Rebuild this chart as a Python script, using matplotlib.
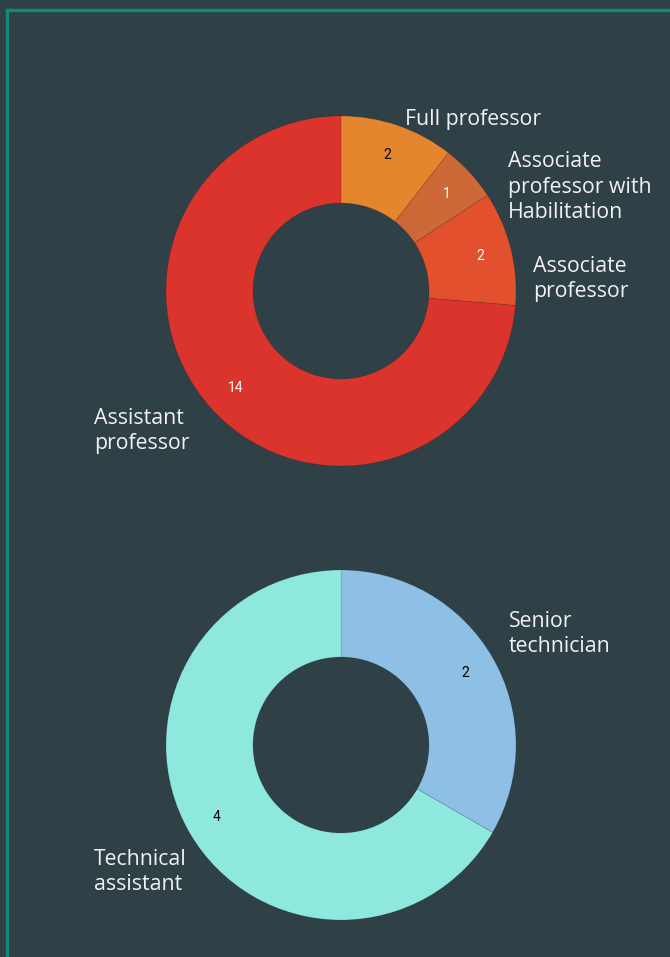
import matplotlib.pyplot as plt
from matplotlib.patches import Rectangle

# data
staff_labels = ['Full professor', 'Associate\nprofessor with\nHabilitation',
                'Associate\nprofessor', 'Assistant\nprofessor']
staff_counts = [2, 1, 2, 14]
staff_colors = ['#e5862e', '#cd6837', '#e2502d', '#da342c']
staff_numcol = ['black', 'white', 'white', 'white']

tech_labels = ['Senior\ntechnician', 'Technical\nassistant']
tech_counts = [2, 4]
tech_colors = ['#8ec0e6', '#8ee8de']
tech_numcol = ['black', 'black']

W, H = 670, 957
bg = '#2f4147'

fig = plt.figure(figsize=(W / 100, H / 100), dpi=100, facecolor=bg)
ax = fig.add_axes([0, 0, 1, 1])
ax.set_facecolor(bg)

R = 175
hole = 88


def donut(center, counts, colors, numcol, labels, label_pos):
    wedges, texts, autos = ax.pie(
        counts, colors=colors, center=center, radius=R,
        startangle=90, counterclock=False, frame=True,
        autopct=lambda p: '%d' % round(p * sum(counts) / 100),
        pctdistance=0.82,
        wedgeprops=dict(width=R - hole, edgecolor=(0, 0, 0, 0.12), linewidth=0.6),
        textprops=dict(fontsize=10, family=['Roboto', 'DejaVu Sans']))
    for t, c in zip(autos, numcol):
        t.set_color(c)
    for lab, (x, y) in zip(labels, label_pos):
        ax.text(x, H - y, lab, ha='left', va='center', color='#f2f2f2',
                fontsize=15.3, family=['Open Sans', 'DejaVu Sans'], linespacing=1.26)


donut((341, H - 291), staff_counts, staff_colors, staff_numcol, staff_labels,
      [(405, 119), (508, 187), (533, 279), (94, 431)])
donut((341, H - 745), tech_counts, tech_colors, tech_numcol, tech_labels,
      [(509, 634), (94, 872)])

# frame line around the panel
ax.add_patch(Rectangle((6.5, -50), 800, H - 9.5 + 50, fill=False,
                       edgecolor='#13897c', linewidth=2.4))

ax.set_xlim(0, W)
ax.set_ylim(0, H)
ax.set_aspect('auto')
ax.axis('off')

fig.savefig('out.png', dpi=100, facecolor=bg)
